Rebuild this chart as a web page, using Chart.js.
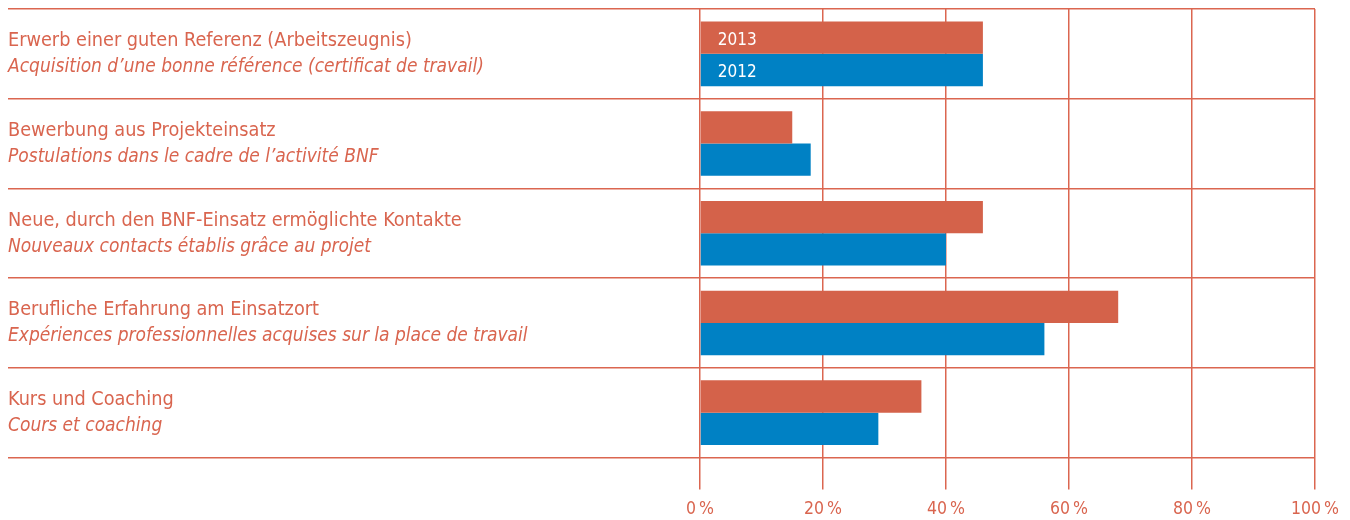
<!DOCTYPE html>
<html>
<head>
<meta charset="utf-8">
<script src="https://cdn.jsdelivr.net/npm/chart.js@4.4.1/dist/chart.umd.min.js"></script>
<style>
  html, body { margin: 0; padding: 0; background: #ffffff; }
  #wrap { width: 1350px; height: 520px; }
</style>
</head>
<body>
<div id="wrap"><canvas id="c" width="1350" height="520"></canvas></div>
<script>
// ---- Data ----
const categoriesDE = [
  "Erwerb einer guten Referenz (Arbeitszeugnis)",
  "Bewerbung aus Projekteinsatz",
  "Neue, durch den BNF-Einsatz ermöglichte Kontakte",
  "Berufliche Erfahrung am Einsatzort",
  "Kurs und Coaching"
];
const categoriesFR = [
  "Acquisition d’une bonne référence (certificat de travail)",
  "Postulations dans le cadre de l’activité BNF",
  "Nouveaux contacts établis grâce au projet",
  "Expériences professionnelles acquises sur la place de travail",
  "Cours et coaching"
];
const seriesNames = ["2013", "2012"];
const values2013 = [46, 15, 46, 68, 36];
const values2012 = [46, 18, 40, 56, 29];
const xTicks = [0, 20, 40, 60, 80, 100];

// ---- Styles ----
const ORANGE = '#d4624a';
const BLUE = '#0081c4';
const GRID = '#db6650';
const TEXT = '#d9654f';
const FONT = "'DejaVu Sans Condensed', 'DejaVu Sans', sans-serif";

const categoryLabelPlugin = {
  id: 'categoryLabels',
  afterDraw(chart) {
    const ctx = chart.ctx;
    const y = chart.scales.y;
    ctx.save();
    ctx.fillStyle = TEXT;
    ctx.textAlign = 'left';
    ctx.textBaseline = 'alphabetic';
    categoriesDE.forEach((lab, i) => {
      const cy = y.getPixelForValue(i);
      ctx.font = "19.7px " + FONT;
      ctx.fillText(lab, 8, cy - 7.5);
      ctx.font = "italic 19px " + FONT;
      ctx.fillText(categoriesFR[i], 8, cy + 18.5);
    });
    ctx.restore();
  }
};

const barLegendPlugin = {
  id: 'barLegend',
  afterDatasetsDraw(chart) {
    const ctx = chart.ctx;
    ctx.save();
    ctx.fillStyle = '#ffffff';
    ctx.textAlign = 'left';
    ctx.textBaseline = 'middle';
    ctx.font = "17px " + FONT;
    chart.data.datasets.forEach((ds, di) => {
      const el = chart.getDatasetMeta(di).data[0];
      ctx.fillText(ds.label, el.base + 17, el.y + 3);
    });
    ctx.restore();
  }
};

new Chart(document.getElementById('c'), {
  type: 'bar',
  data: {
    labels: categoriesDE,
    datasets: [
      { label: seriesNames[0], data: values2013, backgroundColor: ORANGE, borderWidth: 0 },
      { label: seriesNames[1], data: values2012, backgroundColor: BLUE, borderWidth: 0 }
    ]
  },
  options: {
    indexAxis: 'y',
    responsive: false,
    devicePixelRatio: 1,
    animation: false,
    layout: { padding: { left: 8, right: 35, top: 9, bottom: 0 } },
    datasets: { bar: { categoryPercentage: 0.72, barPercentage: 1.0 } },
    plugins: { legend: { display: false }, tooltip: { enabled: false } },
    scales: {
      x: {
        type: 'linear',
        position: 'bottom',
        min: xTicks[0],
        max: xTicks[xTicks.length - 1],
        afterBuildTicks: (s) => { s.ticks = xTicks.map(v => ({ value: v })); },
        afterFit: (s) => { s.height = 62.5; },
        border: { display: false },
        grid: { color: GRID, lineWidth: 1.5, tickLength: 32, drawTicks: true },
        ticks: {
          color: TEXT,
          font: { family: FONT, size: 17.5 },
          padding: 9,
          maxRotation: 0,
          callback: (v) => v + '\u2009%'
        }
      },
      y: {
        type: 'category',
        position: 'left',
        afterFit: (s) => { s.width = 692; },
        border: { display: false },
        grid: { color: GRID, lineWidth: 1.5, offset: true, tickLength: 692, drawTicks: true },
        ticks: { display: false }
      }
    }
  },
  plugins: [categoryLabelPlugin, barLegendPlugin]
});
</script>
</body>
</html>
